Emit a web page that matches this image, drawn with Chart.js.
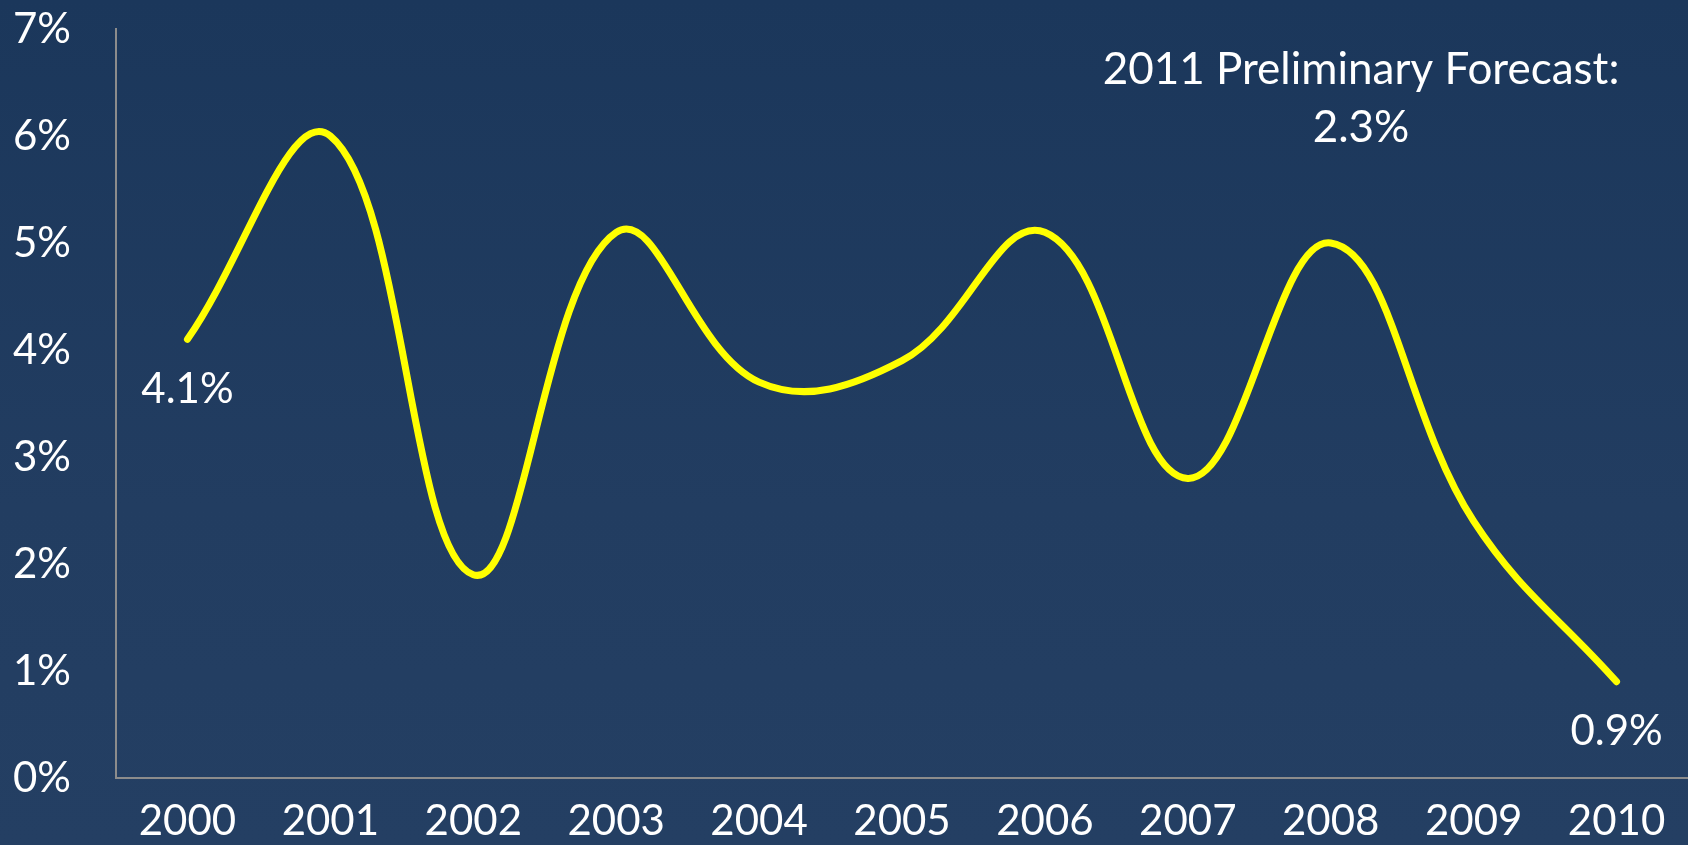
<!DOCTYPE html>
<html>
<head>
<meta charset="utf-8">
<script src="https://cdn.jsdelivr.net/npm/chart.js@4/dist/chart.umd.min.js"></script>
<style>
  html, body { margin: 0; padding: 0; width: 1688px; height: 845px; overflow: hidden;
    background: linear-gradient(to bottom, #1b375b 0%, #223d61 60%, #243f63 100%); }
  #wrap { position: relative; width: 1688px; height: 845px; }
</style>
</head>
<body>
<div id="wrap"><canvas id="c" width="1688" height="845"></canvas></div>
<script>
const years = ['2000','2001','2002','2003','2004','2005','2006','2007','2008','2009','2010'];
const rates = [4.1, 6.0, 1.9, 5.1, 3.7, 3.9, 5.1, 2.8, 5.0, 2.4, 0.9];
const labeledIndexes = [0, 10];
const forecastLines = ['2011 Preliminary Forecast:', '2.3%'];
const yMin = 0, yMax = 7, yStep = 1;

const FONT = 'Lato, "Open Sans", sans-serif';
const FSIZE = 42;

const labelPlugin = {
  id: 'labels',
  afterDatasetsDraw(chart) {
    const ctx = chart.ctx;
    const meta = chart.getDatasetMeta(0);
    ctx.save();
    ctx.fillStyle = '#ffffff';
    ctx.font = FSIZE + 'px ' + FONT;
    ctx.textAlign = 'center';
    ctx.textBaseline = 'middle';
    labeledIndexes.forEach(i => {
      const p = meta.data[i];
      ctx.fillText(rates[i].toFixed(1) + '%', p.x, p.y + 50);
    });
    const a = chart.chartArea;
    const cx = a.left + (a.right - a.left) * 0.792;
    ctx.font = '44px ' + FONT;
    ctx.fillText(forecastLines[0], cx, a.top + 41);
    ctx.fillText(forecastLines[1], cx, a.top + 99);
    ctx.restore();
  }
};

new Chart(document.getElementById('c'), {
  type: 'line',
  data: {
    labels: years,
    datasets: [{
      data: rates,
      borderColor: '#ffff00',
      borderWidth: 7,
      borderCapStyle: 'round',
      borderJoinStyle: 'round',
      tension: 0.4,
      pointRadius: 0,
      fill: false
    }]
  },
  options: {
    responsive: false,
    animation: false,
    devicePixelRatio: 1,
    layout: { padding: { top: 29, right: 0, left: 0, bottom: 0 } },
    plugins: { legend: { display: false }, tooltip: { enabled: false } },
    scales: {
      x: {
        offset: true,
        grid: { display: false, drawTicks: false },
        border: { display: true, color: '#8c8c8c', width: 2 },
        ticks: { color: '#ffffff', font: { family: FONT, size: FSIZE }, padding: 18, maxRotation: 0, autoSkip: false },
        afterFit(s) { s.height = 67; s.paddingLeft = 0; s.paddingRight = 0; }
      },
      y: {
        min: yMin, max: yMax,
        grid: { display: false, drawTicks: false },
        border: { display: true, color: '#8c8c8c', width: 2 },
        ticks: { stepSize: yStep, color: '#ffffff', font: { family: FONT, size: FSIZE }, padding: 45,
          callback: v => v + '%' },
        afterFit(s) { s.width = 116; s.paddingTop = 0; s.paddingBottom = 0; }
      }
    }
  },
  plugins: [labelPlugin]
});
</script>
</body>
</html>
